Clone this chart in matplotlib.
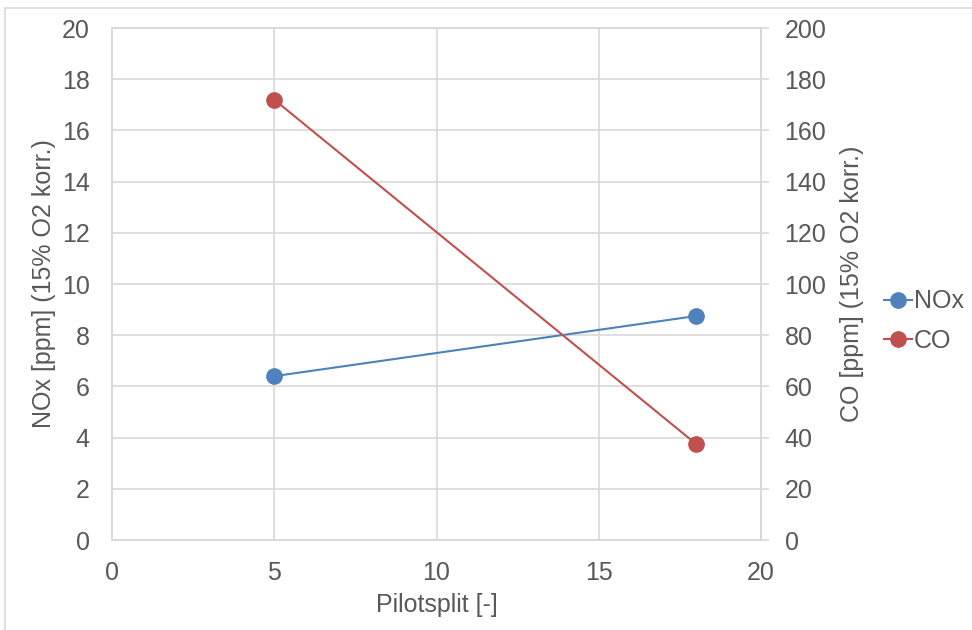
import matplotlib
matplotlib.use("Agg")
import matplotlib.pyplot as plt
from matplotlib.patches import Rectangle

plt.rcParams['font.family'] = ['Liberation Sans', 'DejaVu Sans']

pilotsplit = [5, 18]
nox = [6.4, 8.75]
co = [172, 37.5]
x_ticks = [0, 5, 10, 15, 20]
left_ticks = list(range(0, 21, 2))
right_ticks = list(range(0, 201, 20))

W, H = 972, 630
fig = plt.figure(figsize=(W / 100, H / 100), dpi=100)
fig.patch.set_facecolor('white')

# outer chart border
fig.patches.append(Rectangle((5 / W, -0.1), 1.2, 1 - 8 / H + 0.1, transform=fig.transFigure,
                             fill=False, edgecolor='#d9d9d9', linewidth=1.2))

ax = fig.add_axes([112 / W, 1 - 540 / H, (761 - 112) / W, (540 - 28) / H])
ax2 = ax.twinx()

text_col = '#595959'
grid_col = '#d9d9d9'
blue = '#4f81bd'
red = '#c0504d'
fs = 18

l1, = ax.plot(pilotsplit, nox, color=blue, lw=1.5, marker='o', ms=11, label='NOx')
l2, = ax2.plot(pilotsplit, co, color=red, lw=1.5, marker='o', ms=11, label='CO')

ax.set_xlim(0, 20)
ax.set_ylim(0, 20)
ax2.set_ylim(0, 200)
ax.set_xticks(x_ticks)
ax.set_yticks(left_ticks)
ax2.set_yticks(right_ticks)

ax.grid(True, color=grid_col, lw=1.2)
ax.set_axisbelow(True)

for a in (ax, ax2):
    for s in a.spines.values():
        s.set_color(grid_col)
        s.set_linewidth(1.2)
    a.tick_params(colors=text_col, labelsize=fs, length=0)
ax.tick_params(axis='y', pad=16)
ax.tick_params(axis='x', pad=15)
ax2.tick_params(axis='y', length=6, width=1.2, color=grid_col, direction='out', pad=11)

ax.set_xlabel('Pilotsplit [-]', fontsize=fs, color=text_col, labelpad=6)
ax.set_ylabel('NOx [ppm] (15% O2 korr.)', fontsize=fs, color=text_col, labelpad=4)
ax2.set_ylabel('CO [ppm] (15% O2 korr.)', fontsize=fs, color=text_col, labelpad=10)

leg = fig.legend(handles=[l1, l2], loc='center left', bbox_to_anchor=(884 / W, 1 - 321 / H),
                 frameon=False, fontsize=fs, handlelength=1.1, handletextpad=0.1,
                 labelcolor=text_col, borderpad=0, borderaxespad=0, labelspacing=0.6)

fig.savefig('out.png', dpi=100)
